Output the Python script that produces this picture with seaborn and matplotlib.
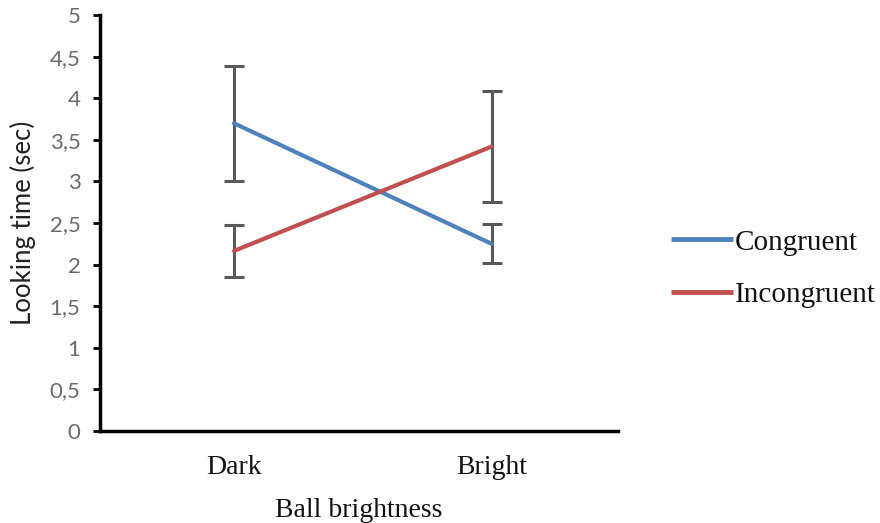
import matplotlib
matplotlib.use("Agg")
import matplotlib.pyplot as plt
import seaborn as sns
import pandas as pd
import numpy as np
from matplotlib.lines import Line2D

# Data
categories = ["Dark", "Bright"]
congruent = [3.70, 2.25]
congruent_err = [0.69, 0.235]
incongruent = [2.165, 3.42]
incongruent_err = [0.315, 0.67]
series_names = ["Congruent", "Incongruent"]
yticks = [0, 0.5, 1, 1.5, 2, 2.5, 3, 3.5, 4, 4.5, 5]
ytick_labels = ["0", "0,5", "1", "1,5", "2", "2,5", "3", "3,5", "4", "4,5", "5"]

df = pd.DataFrame({
    "Ball brightness": categories * 2,
    "Looking time (sec)": congruent + incongruent,
    "Condition": [series_names[0]] * 2 + [series_names[1]] * 2,
})

sns.set_style("white")
colors = {"Congruent": "#4F81BD", "Incongruent": "#C0504D"}

fig = plt.figure(figsize=(8.8, 5.23), dpi=100)
ax = fig.add_axes([0.1136, 0.176, 0.5886, 0.795])

sns.lineplot(data=df, x="Ball brightness", y="Looking time (sec)", hue="Condition",
             palette=colors, linewidth=3, ax=ax, legend=False, sort=False)

xpos = np.arange(len(categories))
for vals, errs in [(congruent, congruent_err), (incongruent, incongruent_err)]:
    ax.errorbar(xpos, vals, yerr=errs, fmt="none", ecolor="#595959",
                elinewidth=2.2, capsize=7, capthick=2.2, zorder=1)

ax.set_ylim(0, 5)
ax.set_xlim(-0.52, 1.49)
ax.set_yticks(yticks)
ax.set_yticklabels(ytick_labels, fontfamily="Lato", fontsize=16, color="#6b6b6b")
ax.set_xticks(xpos)
ax.set_xticklabels(categories, fontfamily="Liberation Serif", fontsize=20, color="#111111")

for s in ["top", "right"]:
    ax.spines[s].set_visible(False)
for s in ["left", "bottom"]:
    ax.spines[s].set_color("black")
    ax.spines[s].set_linewidth(2.5)

ax.tick_params(axis="y", which="both", left=True, direction="out", length=5, width=2,
               color="black", pad=9)
ax.tick_params(axis="x", bottom=False, pad=14)

ax.set_ylabel("Looking time (sec)", fontfamily="Lato", fontsize=18.5, color="#222222", labelpad=10)
ax.set_xlabel("Ball brightness", fontfamily="Liberation Serif", fontsize=20, color="#111111", labelpad=13)

handles = [Line2D([0], [0], color=colors[n], linewidth=3.5, solid_capstyle="butt") for n in series_names]
leg = fig.legend(handles, series_names, loc="center left", bbox_to_anchor=(0.763, 0.486),
                 frameon=False, handlelength=2.1, handletextpad=0.06, labelspacing=0.9,
                 borderpad=0, borderaxespad=0,
                 prop={"family": "Liberation Serif", "size": 21})
for t in leg.get_texts():
    t.set_color("#111111")

fig.savefig("out.png", dpi=100)
